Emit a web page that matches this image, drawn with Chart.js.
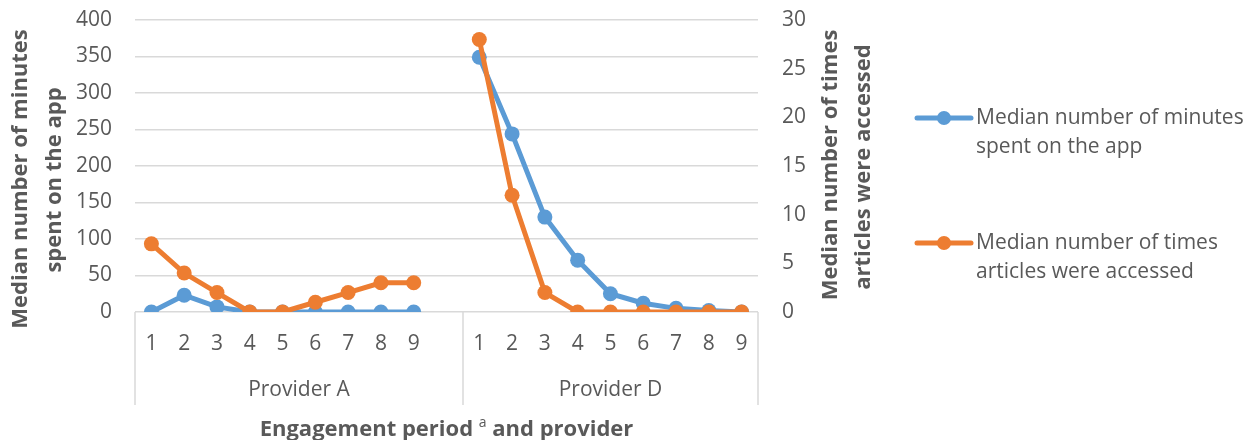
<!DOCTYPE html>
<html>
<head>
<meta charset="utf-8">
<script src="https://cdn.jsdelivr.net/npm/chart.js@4/dist/chart.umd.min.js"></script>
<style>
  html, body { margin: 0; padding: 0; background: #ffffff; }
  canvas { display: block; }
</style>
</head>
<body>
<canvas id="chart" width="1251" height="440"></canvas>
<script>
// Engagement periods, grouped by provider (blank slot separates the groups)
const periods = ['1','2','3','4','5','6','7','8','9','','1','2','3','4','5','6','7','8','9'];
const providers = ['Provider A', 'Provider D'];
const providerFirstIndex = [0, 10];
const providerLastIndex = [9, 18];

// Median minutes spent on the app (left axis)
const minutesSpent = [0, 23, 7, 0, 0, 0, 0, 0, 0, null, 349, 244, 130, 71, 25, 12, 5, 2, 0];
// Median number of times articles were accessed (right axis)
const articlesAccessed = [7, 4, 2, 0, 0, 1, 2, 3, 3, null, 28, 12, 2, 0, 0, 0, 0, 0, 0];

// Axis tick settings
const minutesTicks = { min: 0, max: 400, step: 50 };
const articlesTicks = { min: 0, max: 30, step: 5 };

const seriesNames = [
  ['Median number of minutes', 'spent on the app'],
  ['Median number of times', 'articles were accessed']
];
const leftTitle = ['Median number of minutes', 'spent on the app'];
const rightTitle = ['Median number of times', 'articles were accessed'];

const BLUE = '#5b9bd5';
const ORANGE = '#ed7d31';
const TEXT = '#595959';
const GRID = '#d9d9d9';
const FONT = '"Open Sans", "Noto Sans", sans-serif';

function drawRotated(ctx, text, x, y) {
  ctx.save();
  ctx.translate(x, y);
  ctx.rotate(-Math.PI / 2);
  ctx.fillText(text, 0, 0);
  ctx.restore();
}

const decorations = {
  id: 'decorations',
  afterDraw(chart) {
    const ctx = chart.ctx;
    const xs = chart.scales.x;
    const area = chart.chartArea;
    const half = (xs.getPixelForValue(1) - xs.getPixelForValue(0)) / 2;

    // group separators and provider labels
    ctx.save();
    ctx.strokeStyle = GRID;
    ctx.lineWidth = 1.5;
    const bounds = [];
    providers.forEach((name, i) => {
      const l = xs.getPixelForValue(providerFirstIndex[i]) - half;
      const r = xs.getPixelForValue(providerLastIndex[i]) + half;
      bounds.push(l, r);
      ctx.fillStyle = TEXT;
      ctx.font = '21px ' + FONT;
      ctx.textAlign = 'center';
      ctx.textBaseline = 'middle';
      ctx.fillText(name, (l + r) / 2, 390);
    });
    [...new Set(bounds.map(b => Math.round(b * 2) / 2))].forEach(b => {
      ctx.beginPath();
      ctx.moveTo(b, area.bottom);
      ctx.lineTo(b, 405);
      ctx.stroke();
    });

    // x axis title with superscript
    ctx.fillStyle = TEXT;
    ctx.textBaseline = 'alphabetic';
    ctx.textAlign = 'left';
    const boldFont = 'bold 22px ' + FONT;
    const supFont = '14px ' + FONT;
    const p1 = 'Engagement period ';
    const p2 = 'a';
    const p3 = ' and provider';
    ctx.font = boldFont;
    const w1 = ctx.measureText(p1).width, w3 = ctx.measureText(p3).width;
    ctx.font = supFont;
    const w2 = ctx.measureText(p2).width;
    let x0 = (area.left + area.right) / 2 - (w1 + w2 + w3) / 2;
    const yb = 436;
    ctx.font = boldFont; ctx.fillText(p1, x0, yb);
    ctx.font = supFont; ctx.fillText(p2, x0 + w1, yb - 9);
    ctx.font = boldFont; ctx.fillText(p3, x0 + w1 + w2, yb);

    // y axis titles
    ctx.textAlign = 'center';
    ctx.textBaseline = 'middle';
    ctx.font = boldFont;
    drawRotated(ctx, leftTitle[0], 21, 179);
    drawRotated(ctx, leftTitle[1], 55, 180);
    drawRotated(ctx, rightTitle[0], 831, 165);
    drawRotated(ctx, rightTitle[1], 864, 167);

    // legend
    const legendY = [[118, 147], [243, 272]];
    [BLUE, ORANGE].forEach((color, i) => {
      const y = legendY[i][0];
      ctx.strokeStyle = color;
      ctx.lineWidth = 5;
      ctx.lineCap = 'round';
      ctx.beginPath();
      ctx.moveTo(917, y);
      ctx.lineTo(971, y);
      ctx.stroke();
      ctx.fillStyle = color;
      ctx.beginPath();
      ctx.arc(944, y, 7, 0, Math.PI * 2);
      ctx.fill();
      ctx.fillStyle = TEXT;
      ctx.font = '21px ' + FONT;
      ctx.textAlign = 'left';
      ctx.fillText(seriesNames[i][0], 976, legendY[i][0]);
      ctx.fillText(seriesNames[i][1], 976, legendY[i][1]);
    });
    ctx.restore();
  }
};

function trimPadding(scale) {
  scale.paddingTop = 0;
  scale.paddingBottom = 0;
}

new Chart(document.getElementById('chart'), {
  type: 'line',
  data: {
    labels: periods,
    datasets: [
      {
        label: seriesNames[0].join(' '),
        data: minutesSpent,
        yAxisID: 'y',
        borderColor: BLUE,
        backgroundColor: BLUE,
        borderWidth: 5,
        pointRadius: 7.5,
        pointBorderWidth: 0,
        pointBackgroundColor: BLUE,
        tension: 0,
        order: 2
      },
      {
        label: seriesNames[1].join(' '),
        data: articlesAccessed,
        yAxisID: 'y2',
        borderColor: ORANGE,
        backgroundColor: ORANGE,
        borderWidth: 5,
        pointRadius: 7.5,
        pointBorderWidth: 0,
        pointBackgroundColor: ORANGE,
        tension: 0,
        order: 1
      }
    ]
  },
  options: {
    responsive: false,
    maintainAspectRatio: false,
    animation: false,
    devicePixelRatio: 1,
    spanGaps: false,
    layout: { autoPadding: false, padding: { top: 20, left: 0, right: 0, bottom: 0 } },
    plugins: {
      legend: { display: false },
      title: { display: false },
      tooltip: { enabled: false }
    },
    scales: {
      x: {
        type: 'category',
        offset: true,
        grid: { display: false, drawTicks: false },
        border: { display: false },
        ticks: {
          color: TEXT,
          font: { family: FONT, size: 21 },
          padding: 19,
          maxRotation: 0,
          autoSkip: false
        },
        afterFit(scale) { scale.height = 128; }
      },
      y: {
        position: 'left',
        min: minutesTicks.min,
        max: minutesTicks.max,
        grid: { color: GRID, lineWidth: 1.5, drawTicks: false },
        border: { display: false },
        ticks: {
          stepSize: minutesTicks.step,
          color: TEXT,
          font: { family: FONT, size: 21 },
          padding: 23
        },
        afterFit(scale) { scale.width = 135; trimPadding(scale); }
      },
      y2: {
        position: 'right',
        min: articlesTicks.min,
        max: articlesTicks.max,
        grid: { display: false, drawTicks: false },
        border: { display: false },
        ticks: {
          stepSize: articlesTicks.step,
          color: TEXT,
          font: { family: FONT, size: 21 },
          padding: 24
        },
        afterFit(scale) { scale.width = 493; trimPadding(scale); }
      }
    }
  },
  plugins: [decorations]
});
</script>
</body>
</html>
